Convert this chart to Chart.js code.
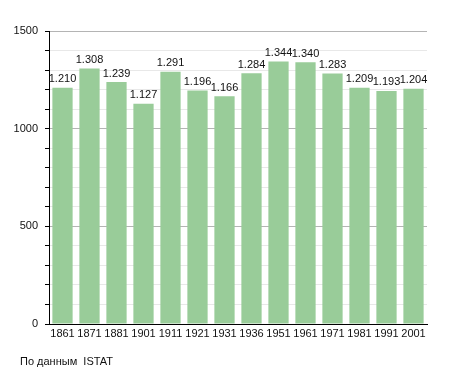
<!DOCTYPE html>
<html>
<head>
<meta charset="utf-8">
<script src="https://cdn.jsdelivr.net/npm/chart.js@4"></script>
<style>
  body { margin: 0; background: #fff; }
  #wrap { position: relative; width: 455px; height: 373px; }
  #note { position: absolute; left: 20px; top: 355px; font: 11px "Liberation Sans", Arial, sans-serif; color: #111; }
</style>
</head>
<body>
<div id="wrap">
  <canvas id="chart" width="455" height="373"></canvas>
  <div id="note">По данным&nbsp; ISTAT</div>
</div>
<script>
const years = ["1861","1871","1881","1901","1911","1921","1931","1936","1951","1961","1971","1981","1991","2001"];
const population = [1210, 1308, 1239, 1127, 1291, 1196, 1166, 1284, 1344, 1340, 1283, 1209, 1193, 1204];
const yMajorTicks = [0, 500, 1000, 1500];

const fmt = v => v >= 1000 ? Math.floor(v / 1000) + "." + String(v % 1000).padStart(3, "0") : String(v);

const valueLabels = {
  id: "valueLabels",
  afterDatasetsDraw(chart) {
    const ctx = chart.ctx;
    const meta = chart.getDatasetMeta(0);
    ctx.save();
    ctx.font = '11px "Liberation Sans", Arial, sans-serif';
    ctx.fillStyle = "#111";
    ctx.textAlign = "center";
    ctx.textBaseline = "bottom";
    meta.data.forEach((bar, i) => {
      ctx.fillText(fmt(population[i]), bar.x, bar.y - 3);
    });
    ctx.restore();
  }
};

new Chart(document.getElementById("chart"), {
  type: "bar",
  data: {
    labels: years,
    datasets: [{
      data: population,
      backgroundColor: "#99cc99",
      borderWidth: 0,
      barPercentage: 0.75,
      categoryPercentage: 1
    }]
  },
  options: {
    responsive: false,
    animation: false,
    layout: { padding: { left: 0, right: 28, top: 31, bottom: 0 } },
    plugins: { legend: { display: false }, tooltip: { enabled: false } },
    scales: {
      x: {
        afterFit(scale) { scale.height = 49; },
        grid: { display: false, drawTicks: false },
        border: { color: "#000", width: 1 },
        ticks: {
          padding: 3,
          autoSkip: false,
          maxRotation: 0,
          minRotation: 0,
          color: "#111",
          font: { family: '"Liberation Sans", Arial, sans-serif', size: 11 }
        }
      },
      y: {
        min: 0,
        max: 1500,
        afterFit(scale) { scale.width = 49; },
        border: { color: "#000", width: 1 },
        grid: {
          color: c => (c.tick && yMajorTicks.includes(c.tick.value)) ? "#b4b4b4" : "#e8e8e8",
          tickColor: "#000",
          tickLength: 4
        },
        ticks: {
          stepSize: 100,
          padding: 7,
          autoSkip: false,
          color: "#111",
          font: { family: '"Liberation Sans", Arial, sans-serif', size: 11 },
          callback: v => yMajorTicks.includes(v) ? String(v) : ""
        }
      }
    }
  },
  plugins: [valueLabels]
});
</script>
</body>
</html>
